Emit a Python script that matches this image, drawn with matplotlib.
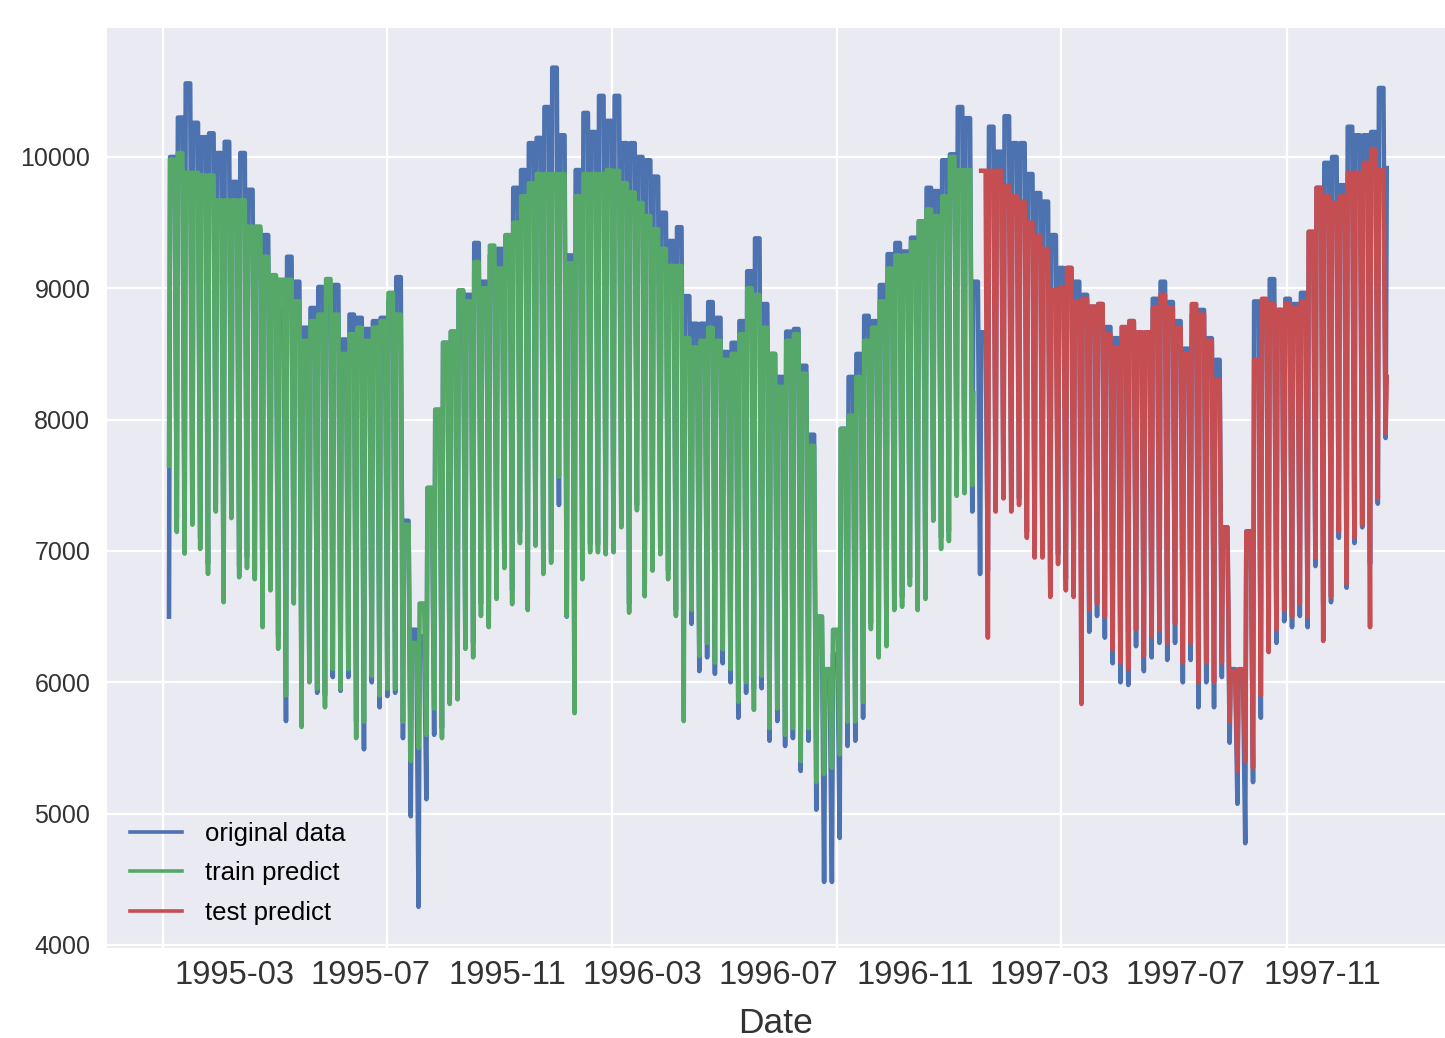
import pandas as pd
import matplotlib
matplotlib.use("Agg")
import matplotlib.pyplot as plt
import matplotlib.dates as mdates
from matplotlib.ticker import FixedLocator, NullFormatter, MultipleLocator

# ---------------- data (weekly levels) ----------------
start = pd.Timestamp("1995-01-01")   # Sunday
end = pd.Timestamp("1997-12-31")
train_end = pd.Timestamp("1996-12-23")
test_start = pd.Timestamp("1996-12-30")

# original data: weekday level (hi) and Sunday level (lo) of every week 0..156
orig_hi = [10000, 10300, 10560, 10260, 10150, 10180, 10030, 10115, 9810, 10030,
           9750, 9445, 9405, 9085, 8850, 9240, 9050, 8700, 8850, 9010,
           8900, 9025, 8610, 8800, 8775, 8690, 8750, 8775, 8900, 9085,
           7230, 6400, 6350, 7480, 8075, 8585, 8670, 8980, 8950, 9345,
           9050, 9250, 9300, 9400, 9765, 9900, 10105, 10145, 10380, 10680,
           10165, 9250, 9900, 10335, 10190, 10465, 10275, 10465, 10105, 10105,
           10000, 9975, 9850, 9575, 9360, 9465, 8940, 8730, 8730, 8895,
           8775, 8515, 8585, 8750, 9130, 9380, 8880, 8500, 8325, 8670,
           8690, 8410, 7885, 6500, 6040, 6215, 7930, 8325, 8500, 8790,
           8750, 9025, 9260, 9345, 9280, 9385, 9510, 9765, 9740, 9975,
           10020, 10380, 10295, 9050, 8665, 10230, 10040, 10310, 10105, 10105,
           9870, 9725, 9660, 9405, 9155, 9155, 9050, 8950, 8860, 8880,
           8705, 8620, 8600, 8750, 8665, 8665, 8920, 9050, 8895, 8750,
           8540, 8800, 8835, 8620, 8455, 7180, 6100, 6050, 7150, 8900,
           8900, 9070, 8835, 8920, 8880, 8965, 9430, 9765, 9955, 10000,
           9785, 10230, 10165, 10165, 10190, 10525, 9915]
orig_lo = [6500, 7250, 7080, 7360, 7100, 6900, 7360, 6700, 7310, 6880,
           6950, 6850, 6500, 6765, 6350, 5705, 6720, 5850, 6100, 5920,
           5900, 6040, 5935, 6040, 5700, 5490, 6000, 5810, 5895, 5920,
           5575, 4980, 4290, 5110, 5600, 5650, 5900, 5950, 6350, 6300,
           6600, 6500, 6700, 6950, 6700, 7150, 6650, 7100, 6900, 7000,
           7350, 6500, 6000, 6850, 7050, 7050, 7050, 7050, 7250, 6600,
           7350, 6750, 6900, 7000, 6850, 6550, 6300, 6445, 6085, 6190,
           6065, 6145, 6000, 5730, 5920, 5950, 5955, 5555, 5705, 5515,
           5575, 5325, 5555, 5030, 4480, 4480, 4815, 5515, 5555, 5730,
           6450, 6250, 6300, 6600, 6650, 6800, 6600, 6700, 7300, 7100,
           7150, 7450, 7500, 7300, 6825, 6850, 7360, 7420, 7375, 7400,
           7145, 7040, 7015, 6720, 6975, 6785, 6740, 6450, 6385, 6505,
           6340, 6145, 6000, 5980, 6275, 6085, 6190, 6300, 6170, 6300,
           6000, 6170, 5810, 6000, 5810, 6040, 5540, 5075, 4775, 5240,
           5730, 6300, 6300, 6465, 6420, 6505, 6420, 6885, 6600, 6610,
           7100, 6720, 7060, 7180, 6900, 7360, 7860]

# train predict: weeks 0..103
train_hi = [9980, 10030, 9880, 9880, 9860, 9860, 9670, 9670, 9670, 9670,
            9470, 9470, 9240, 9100, 9065, 9065, 8900, 8600, 8750, 8800,
            9070, 8800, 8500, 8650, 8700, 8600, 8700, 8750, 8965, 8800,
            7200, 6300, 6600, 7480, 8075, 8585, 8670, 8985, 8900, 9200,
            9000, 9325, 9150, 9405, 9500, 9700, 9800, 9870, 9870, 9870,
            9870, 9190, 9700, 9870, 9870, 9870, 9900, 9895, 9800, 9730,
            9650, 9550, 9450, 9300, 9170, 9170, 8620, 8550, 8600, 8700,
            8600, 8455, 8500, 8650, 9000, 8950, 8700, 8500, 8250, 8600,
            8650, 8350, 7800, 6500, 6100, 6400, 7930, 8030, 8325, 8600,
            8700, 8900, 9150, 9250, 9250, 9350, 9510, 9600, 9550, 9700,
            10000, 9900, 9900, 8200]
train_lo = [7650, 7145, 6980, 7200, 7015, 6825, 7300, 6610, 7250, 6800,
            6870, 6785, 6420, 6700, 6255, 5900, 6600, 5660, 6000, 5950,
            5810, 6100, 5950, 6100, 5575, 5700, 6050, 5900, 5950, 5950,
            5700, 5400, 5500, 5600, 5800, 5575, 5835, 5870, 6255, 6190,
            6505, 6420, 6635, 6870, 6595, 7060, 6550, 7040, 6825, 6910,
            7565, 6505, 5765, 6785, 6990, 6990, 6975, 6990, 7180, 6530,
            7310, 6655, 6850, 6975, 6785, 6505, 5705, 6550, 6200, 6300,
            6150, 6250, 6100, 5850, 6000, 5790, 6050, 5650, 5800, 5600,
            5650, 5400, 5650, 5240, 5300, 5350, 5450, 5700, 5700, 5850,
            6405, 6190, 6275, 6550, 6575, 6740, 6550, 6635, 7230, 7015,
            7075, 7420, 7440, 7500]

# test predict: weeks 104..156 (no Sunday value in its first week)
test_hi = [9895, 9895, 9895, 9780, 9700, 9660, 9500, 9400, 9300, 8985,
           9000, 9155, 8900, 8920, 8860, 8880, 8650, 8550, 8705, 8750,
           8665, 8665, 8850, 8950, 8850, 8700, 8500, 8880, 8800, 8600,
           8300, 7180, 6085, 6100, 7145, 8455, 8920, 8880, 8835, 8880,
           8850, 8900, 9430, 9765, 9700, 9650, 9700, 9880, 9880, 9955,
           10060, 9900, 8325]
test_lo = [None, 6340, 7300, 7400, 7300, 7350, 7100, 6950, 6950, 6650,
           6900, 6700, 6650, 5835, 6550, 6600, 6500, 6250, 6150, 6100,
           6400, 6200, 6350, 6400, 6300, 6450, 6150, 6300, 6000, 6150,
           6000, 6150, 5700, 5325, 5400, 5350, 5900, 6230, 6400, 6550,
           6500, 6600, 6500, 6950, 6315, 6650, 7150, 6750, 7100, 7200,
           6420, 7400, 7900]


def weekly_series(first_week, hi, lo):
    """Sunday level, then weekday level on Monday and Friday of each week."""
    dates, vals = [], []
    for i, (h, l) in enumerate(zip(hi, lo)):
        sunday = start + pd.Timedelta(weeks=first_week + i)
        if l is not None:
            dates.append(sunday)
            vals.append(l)
        dates.append(sunday + pd.Timedelta(days=1))
        vals.append(h)
        dates.append(sunday + pd.Timedelta(days=5))
        vals.append(h)
    s = pd.Series(vals, index=pd.DatetimeIndex(dates))
    return s[s.index <= end]


orig = weekly_series(0, orig_hi, orig_lo)
train = weekly_series(0, train_hi, train_lo)
train = train[train.index <= train_end]
test = weekly_series(104, test_hi, test_lo)
test = test[test.index >= test_start]

# ---------------- figure ----------------
plt.rcParams['font.family'] = ['Liberation Sans', 'DejaVu Sans']
fig = plt.figure(figsize=(14.45, 10.38), dpi=100, facecolor='white')
ax = fig.add_axes([0.07405, 0.08671, 0.92595, 0.88632])
ax.set_facecolor('#EAEAF2')
for sp in ax.spines.values():
    sp.set_visible(False)

lw = 3.3
ax.plot(orig.index, orig.values, color='#4C72B0', lw=lw, label='original data')
ax.plot(train.index, train.values, color='#55A868', lw=lw, label='train predict')
ax.plot(test.index, test.values, color='#C44E52', lw=lw, label='test predict')

ax.set_ylim(3977, 10982)
base = mdates.date2num(start)
ax.set_xlim(base - 55.65, base + 1145.3)

ax.yaxis.set_major_locator(MultipleLocator(1000))
grid_days = [-5.4, 195.7, 397.6, 599.6, 800.7, 1003.5]
ax.xaxis.set_major_locator(FixedLocator([base + d for d in grid_days]))
ax.xaxis.set_major_formatter(NullFormatter())
ax.xaxis.set_minor_locator(mdates.MonthLocator(bymonth=[3, 7, 11]))
ax.xaxis.set_minor_formatter(mdates.DateFormatter('%Y-%m'))

ax.grid(True, which='major', color='white', lw=1.6)
ax.grid(False, which='minor')
ax.set_axisbelow(True)

ax.tick_params(axis='x', which='both', length=0, labelsize=23.5, pad=9,
               labelcolor='#333333')
ax.tick_params(axis='y', length=0, labelsize=18, pad=12, labelcolor='#333333')
ax.set_xlabel('Date', fontsize=25.5, labelpad=11, color='#333333')

leg = ax.legend(loc='lower left', fontsize=18.5, frameon=False, labelspacing=0.6,
                handletextpad=0.9)
for line in leg.get_lines():
    line.set_linewidth(2.6)

fig.savefig('out.png', dpi=100, facecolor='white')
